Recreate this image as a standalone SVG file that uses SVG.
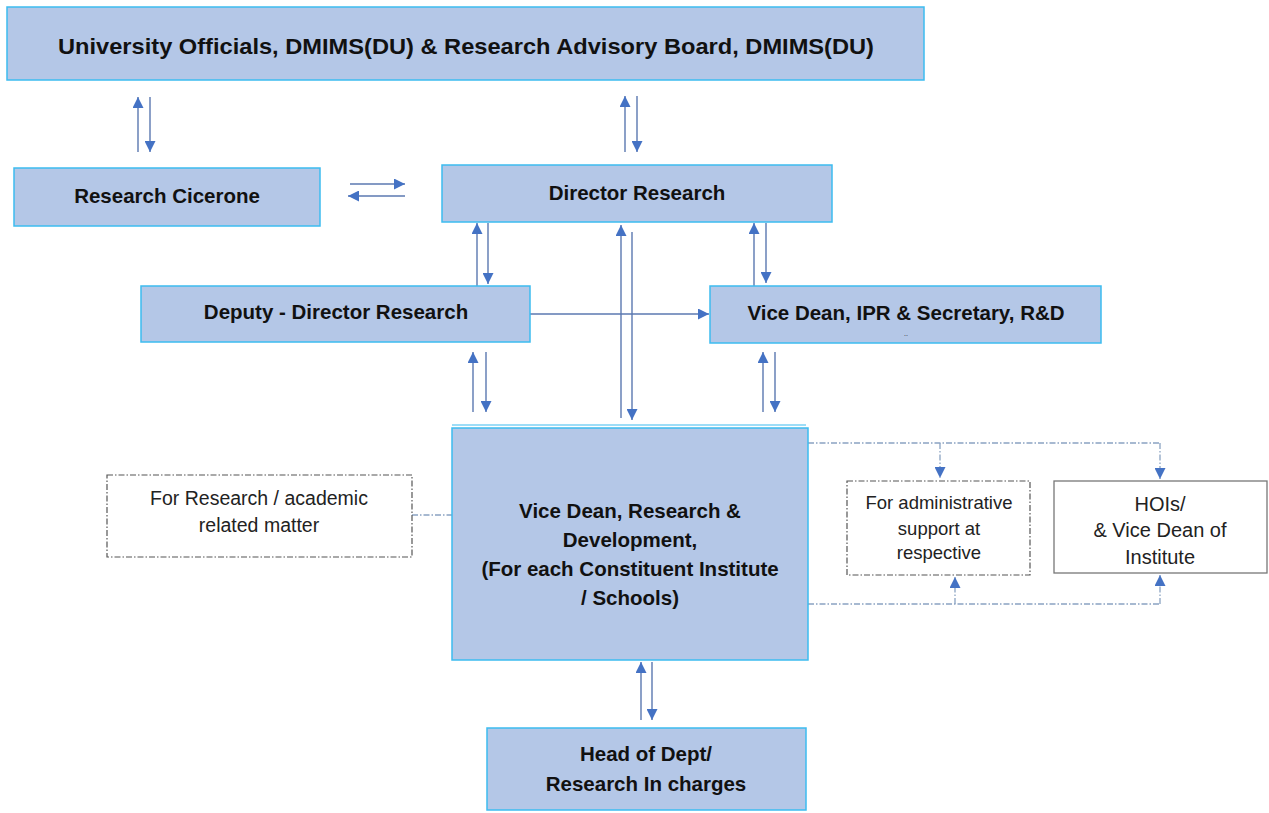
<svg xmlns="http://www.w3.org/2000/svg" width="1269" height="813" viewBox="0 0 1269 813">
<style>
.box{fill:#b4c7e7;stroke:#3cbcf0;stroke-width:1.5}
.t{font-family:"Liberation Sans",Arial,sans-serif;font-weight:bold;font-size:20.5px;fill:#111;text-anchor:middle}
.tn{font-family:"Liberation Sans",Arial,sans-serif;font-size:19.5px;fill:#222;text-anchor:middle}
.dbox{fill:#fff;stroke:#555;stroke-width:1.2;stroke-dasharray:6 2 1.5 2}
.sbox{fill:#fff;stroke:#777;stroke-width:1.3}
.a{fill:none;stroke:#5b78b0;stroke-width:1.4}
.d{fill:none;stroke:#8aa3c2;stroke-width:1.3;stroke-dasharray:6 2 1.5 2}
</style>
<defs>
<marker id="ah" viewBox="0 0 10 10" refX="10" refY="5" markerWidth="11" markerHeight="11" markerUnits="userSpaceOnUse" orient="auto">
<path d="M0,0 L10,5 L0,10 z" fill="#4472c4"/>
</marker>
</defs>
<rect width="1269" height="813" fill="#fff"/>

<g id="connectors">
<line class="a" x1="138" y1="152" x2="138" y2="97" marker-end="url(#ah)"/>
<line class="a" x1="150" y1="97" x2="150" y2="152" marker-end="url(#ah)"/>
<line class="a" x1="625" y1="152" x2="625" y2="96" marker-end="url(#ah)"/>
<line class="a" x1="637" y1="96" x2="637" y2="152" marker-end="url(#ah)"/>
<line class="a" x1="350" y1="184" x2="405" y2="184" marker-end="url(#ah)"/>
<line class="a" x1="405" y1="196" x2="348" y2="196" marker-end="url(#ah)"/>
<line class="a" x1="477" y1="286" x2="477" y2="223" marker-end="url(#ah)"/>
<line class="a" x1="488" y1="223" x2="488" y2="284" marker-end="url(#ah)"/>
<line class="a" x1="621" y1="418" x2="621" y2="225" marker-end="url(#ah)"/>
<line class="a" x1="632" y1="232" x2="632" y2="420" marker-end="url(#ah)"/>
<line class="a" x1="754" y1="286" x2="754" y2="223" marker-end="url(#ah)"/>
<line class="a" x1="766" y1="223" x2="766" y2="283" marker-end="url(#ah)"/>
<line class="a" x1="530" y1="314" x2="709" y2="314" marker-end="url(#ah)"/>
<line class="a" x1="473" y1="412" x2="473" y2="352" marker-end="url(#ah)"/>
<line class="a" x1="486" y1="352" x2="486" y2="412" marker-end="url(#ah)"/>
<line class="a" x1="763" y1="412" x2="763" y2="352" marker-end="url(#ah)"/>
<line class="a" x1="775" y1="352" x2="775" y2="412" marker-end="url(#ah)"/>
<line class="a" x1="641" y1="720" x2="641" y2="662" marker-end="url(#ah)"/>
<line class="a" x1="652" y1="662" x2="652" y2="720" marker-end="url(#ah)"/>
<line class="d" x1="412" y1="515" x2="452" y2="515"/>
<path class="d" d="M808,443 L1160,443"/>
<line class="d" x1="940" y1="443" x2="940" y2="478" marker-end="url(#ah)"/>
<line class="d" x1="1160" y1="443" x2="1160" y2="479" marker-end="url(#ah)"/>
<path class="d" d="M808,604 L1160,604"/>
<line class="d" x1="955" y1="604" x2="955" y2="577" marker-end="url(#ah)"/>
<line class="d" x1="1160" y1="604" x2="1160" y2="575" marker-end="url(#ah)"/>
</g>

<g id="top">
<rect class="box" x="7" y="7" width="917" height="73"/>
<text class="t" x="466" y="54" style="font-size:22px" textLength="816" lengthAdjust="spacingAndGlyphs">University Officials, DMIMS(DU) &amp; Research Advisory Board, DMIMS(DU)</text>
</g>
<g id="cicerone">
<rect class="box" x="14" y="168" width="306" height="58"/>
<text class="t" x="167" y="203">Research Cicerone</text>
</g>
<g id="director">
<rect class="box" x="442" y="165" width="390" height="57"/>
<text class="t" x="637" y="200">Director Research</text>
</g>
<g id="deputy">
<rect class="box" x="141" y="286" width="389" height="56"/>
<text class="t" x="336" y="319">Deputy - Director Research</text>
</g>
<g id="ipr">
<rect class="box" x="710" y="286" width="391" height="57"/>
<text class="t" x="906" y="320">Vice Dean, IPR &amp; Secretary, R&amp;D</text>
<text class="tn" x="906" y="336" style="font-size:7px">..</text>
</g>
<g id="vdrd">
<line x1="452" y1="425" x2="806" y2="425" stroke="#3cbcf0" stroke-width="1.2"/>
<rect class="box" x="452" y="428" width="356" height="232"/>
<text class="t" x="630" y="518">Vice Dean, Research &amp;</text>
<text class="t" x="630" y="547">Development,</text>
<text class="t" x="630" y="576">(For each Constituent Institute</text>
<text class="t" x="630" y="605">/ Schools)</text>
</g>
<g id="research-matter">
<rect class="dbox" x="107" y="475" width="305" height="82"/>
<text class="tn" x="259" y="505">For Research / academic</text>
<text class="tn" x="259" y="532">related matter</text>
</g>
<g id="admin">
<rect class="dbox" x="847" y="481" width="183" height="94"/>
<text class="tn" x="939" y="509" style="font-size:18.5px">For administrative</text>
<text class="tn" x="939" y="535" style="font-size:18.5px">support at</text>
<text class="tn" x="939" y="559" style="font-size:18.5px">respective</text>
</g>
<g id="hois">
<rect class="sbox" x="1054" y="481" width="213" height="92"/>
<text class="tn" x="1160" y="511" style="font-size:20px">HOIs/</text>
<text class="tn" x="1160" y="537" style="font-size:20px">&amp; Vice Dean of</text>
<text class="tn" x="1160" y="564" style="font-size:20px">Institute</text>
</g>
<g id="head">
<rect class="box" x="487" y="728" width="319" height="82"/>
<text class="t" x="646" y="761">Head of Dept/</text>
<text class="t" x="646" y="791">Research In charges</text>
</g>
</svg>
